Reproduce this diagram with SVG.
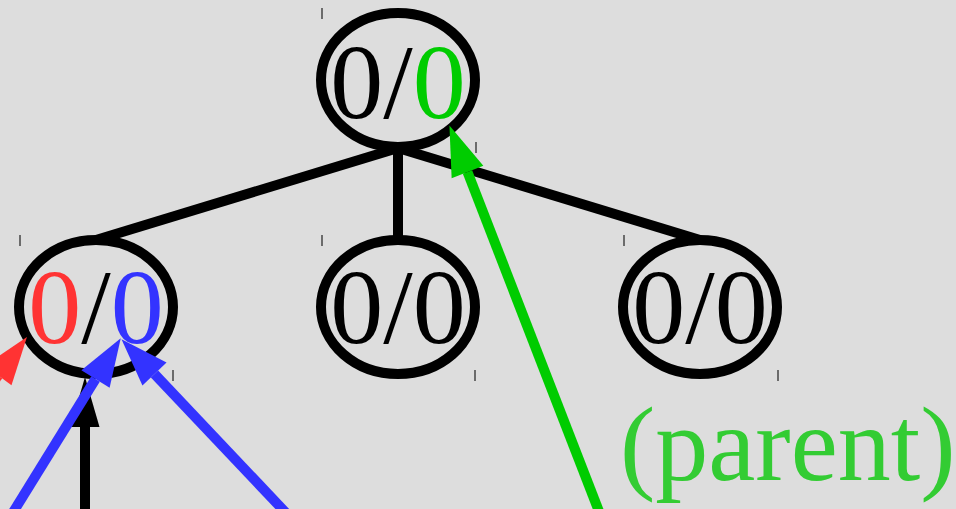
<svg xmlns="http://www.w3.org/2000/svg" width="956" height="509" viewBox="0 0 956 509">
<defs>
<style>
.node{fill:#dddddd;stroke:#000;stroke-width:10}
.edge{stroke:#000;stroke-width:10;fill:none}
.lbl{font-family:"Liberation Serif","Times New Roman",serif;font-size:106px;text-anchor:middle;fill:#000}
.tick{stroke:#444;stroke-width:1.5}
.arr{fill:none;stroke-width:10}
</style>
<marker id="hG" markerUnits="userSpaceOnUse" orient="auto" refX="0" refY="0" markerWidth="50" markerHeight="34" overflow="visible"><path d="M0,-17 L50,0 L0,17 z" fill="#00cc00"/></marker>
<marker id="hB" markerUnits="userSpaceOnUse" orient="auto" refX="0" refY="0" markerWidth="50" markerHeight="34" overflow="visible"><path d="M0,-16.6 L48,0 L0,16.6 z" fill="#3333ff"/></marker>
<marker id="hR" markerUnits="userSpaceOnUse" orient="auto" refX="0" refY="0" markerWidth="50" markerHeight="34" overflow="visible"><path d="M0,-16.6 L48,0 L0,16.6 z" fill="#ff3333"/></marker>
<marker id="hK" markerUnits="userSpaceOnUse" orient="auto" refX="0" refY="0" markerWidth="50" markerHeight="34" overflow="visible"><path d="M0,-14.5 L50,0 L0,14.5 z" fill="#000"/></marker>
</defs>
<rect width="956" height="509" fill="#dddddd"/>
<g id="edges">
<line class="edge" x1="398" y1="148" x2="96" y2="240"/>
<line class="edge" x1="398" y1="148" x2="398" y2="240"/>
<line class="edge" x1="398" y1="148" x2="700" y2="240"/>
</g>
<g id="n-root">
<ellipse class="node" cx="398" cy="80" rx="77" ry="67"/>
<text class="lbl" x="398" y="118">0/<tspan fill="#00cc00">0</tspan></text>
<line class="tick" x1="322" y1="8" x2="322" y2="19"/>
<line class="tick" x1="476" y1="142" x2="476" y2="153"/>
</g>
<g id="n-left">
<ellipse class="node" cx="96" cy="307" rx="77" ry="67"/>
<text class="lbl" x="96" y="343"><tspan fill="#ff3333">0</tspan>/<tspan fill="#3333ff">0</tspan></text>
<line class="tick" x1="20" y1="235" x2="20" y2="246"/>
<line class="tick" x1="173" y1="370" x2="173" y2="381"/>
</g>
<g id="n-mid">
<ellipse class="node" cx="398" cy="307" rx="77" ry="67"/>
<text class="lbl" x="398" y="343">0/0</text>
<line class="tick" x1="322" y1="235" x2="322" y2="246"/>
<line class="tick" x1="475" y1="370" x2="475" y2="381"/>
</g>
<g id="n-right">
<ellipse class="node" cx="700" cy="307" rx="77" ry="67"/>
<text class="lbl" x="700" y="343">0/0</text>
<line class="tick" x1="624" y1="235" x2="624" y2="246"/>
<line class="tick" x1="778" y1="370" x2="778" y2="381"/>
</g>
<g id="connectors">
<line class="arr" stroke="#000" stroke-width="11" x1="85" y1="515" x2="85" y2="427" marker-end="url(#hK)"/>
<line class="arr" stroke="#ff3333" x1="-80" y1="480" x2="-1.8" y2="375.4" marker-end="url(#hR)"/>
<line class="arr" stroke="#3333ff" x1="12" y1="514" x2="95.5" y2="379" marker-end="url(#hB)"/>
<line class="arr" stroke="#3333ff" x1="287" y1="514" x2="154.5" y2="374" marker-end="url(#hB)"/>
<line class="arr" stroke="#00cc00" stroke-width="9.5" x1="600" y1="514" x2="467.5" y2="172" marker-end="url(#hG)"/>
</g>
<text id="parent-label" x="620" y="480" font-family="'Liberation Serif','Times New Roman',serif" font-size="106" fill="#33cc33">(parent)</text>
</svg>
